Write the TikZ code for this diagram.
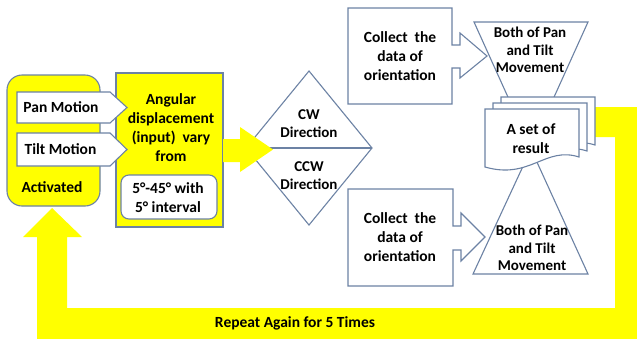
\documentclass[tikz,border=0pt]{standalone}
\usepackage{fontspec}
\setmainfont{Carlito}
\definecolor{edge}{RGB}{108,130,164}
\definecolor{hilite}{RGB}{255,255,0}
\tikzset{
  outline/.style={draw=edge, line width=1.1pt, line join=miter},
  yellowfill/.style={outline, fill=hilite},
  whitefill/.style={outline, fill=white},
  txt/.style={font=\bfseries\fontsize{15.5}{19}\selectfont, align=center, inner sep=0pt, text=black},
  smalltxt/.style={font=\bfseries\fontsize{15}{17.5}\selectfont, align=center, inner sep=0pt, text=black},
}
% one stacked document sheet, anchored at its top-left corner
\newcommand{\docsheet}[2]{%
  \draw[whitefill] (#1,#2) -- ++(94,0) -- ++(0,48)
    .. controls ++(-34,-11) and ++(45,13) .. ++(-94,10) -- cycle;}
\begin{document}
\begin{tikzpicture}[x=1pt,y=-1pt]
  \clip (0,0) rectangle (637,338);

  % feedback loop running back to the start
  \fill[hilite] (593,107) -- (645,107) -- (645,345) -- (37,345) -- (37,237)
    -- (23,237) -- (52,208) -- (82,237) -- (67,237) -- (67,308)
    -- (615,308) -- (615,137) -- (593,137) -- cycle;

  % motion selection block
  \draw[yellowfill, rounded corners=15pt] (7,75) rectangle (100,206);
  \draw[yellowfill] (116,73) rectangle (223,227);
  \draw[whitefill, rounded corners=8pt] (121,175) rectangle (217,219);
  \draw[whitefill] (17,92) -- (110,92) -- (127,107.5) -- (110,123) -- (17,123) -- cycle;
  \draw[whitefill] (17,133) -- (110,133) -- (127,149.5) -- (110,166) -- (17,166) -- cycle;

  % direction decision
  \draw[whitefill] (246,148) -- (309,71) -- (372,148) -- (309,225) -- cycle;
  \draw[outline] (246,148) -- (372,148);

  % flow into the decision
  \fill[hilite] (223,139) -- (240,139) -- (240,127) -- (273,149.5) -- (240,172)
    -- (240,162) -- (223,162) -- cycle;

  % data collection callouts
  \draw[whitefill] (348,8) -- (452,8) -- (452,45) -- (460,45) -- (460,33) -- (487,56)
    -- (460,78) -- (460,68) -- (452,68) -- (452,104) -- (348,104) -- cycle;
  \draw[whitefill] (348,189) -- (453,189) -- (453,226) -- (461,226) -- (461,213) -- (485,237)
    -- (461,261) -- (461,250) -- (453,250) -- (453,286) -- (348,286) -- cycle;

  % merge and extract triangles
  \draw[whitefill] (474,22) -- (588,22) -- (531,148) -- cycle;
  \draw[whitefill] (473,274) -- (588,274) -- (531,149) -- cycle;

  % stacked result sheets
  \docsheet{501}{97}
  \docsheet{493}{103}
  \docsheet{485}{109}

  % labels
  \node[txt] (act) at (52,187) {Activated};
  \node[txt] (pan) at (61,107.5) {Pan Motion};
  \node[txt] (tilt) at (60.5,149.5) {Tilt Motion};
  \node[txt, text depth=0pt] (ang) at (171,128) {Angular\\displacement\\(input)\ \ vary\\from};
  \node[txt] (range) at (168,197.5) {5°-45° with\\5° interval};
  \node[smalltxt] (cw) at (309,123.5) {CW\\Direction};
  \node[smalltxt] (ccw) at (309,175.5) {CCW\\Direction};
  \node[txt] (colA) at (400,56) {Collect\ \ the\\data of\\orientation};
  \node[txt] (colB) at (400,237) {Collect\ \ the\\data of\\orientation};
  \node[smalltxt] (movA) at (530,50) {Both of Pan\\and Tilt\\Movement};
  \node[smalltxt] (movB) at (532,248) {Both of Pan\\and Tilt\\Movement};
  \node[txt] (res) at (531,138.5) {A set of\\result};
  \node[txt] (rep) at (295,323) {Repeat Again for 5 Times};
\end{tikzpicture}
\end{document}
